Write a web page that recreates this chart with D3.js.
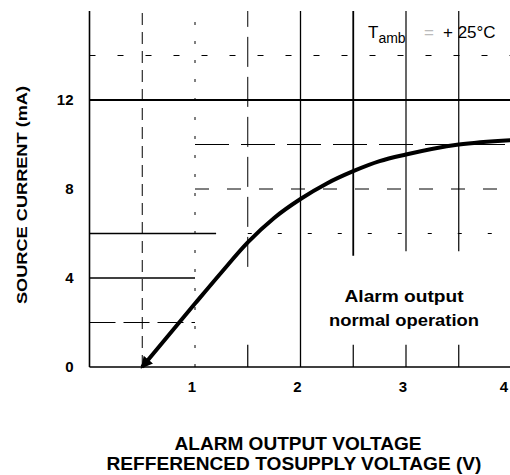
<!DOCTYPE html>
<html>
<head>
<meta charset="utf-8">
<script src="https://cdn.jsdelivr.net/npm/d3@7"></script>
<style>
  body { margin: 0; background: #fff; }
  svg { display: block; }
</style>
</head>
<body>
<div id="chart"></div>
<script>
// source current vs alarm output voltage
const voltage = [0.5, 1.0, 1.25, 1.5, 1.75, 2.0, 2.25, 2.5, 2.75, 3.0, 3.5, 4.0];
const current = [0, 2.85, 4.25, 5.6, 6.7, 7.55, 8.25, 8.8, 9.25, 9.55, 10.0, 10.2];

const xTicks = [1, 2, 3, 4];
const yTicks = [0, 4, 8, 12];
const xGrid = [0.5, 1, 1.5, 2, 2.5, 3, 3.5];
const yGrid = [2, 4, 6, 8, 10, 14];

const xTitle = ["ALARM OUTPUT VOLTAGE", "REFFERENCED TOSUPPLY VOLTAGE (V)"];
const yTitle = "SOURCE CURRENT (mA)";
const noteLines = ["Alarm output", "normal operation"];

const width = 510, height = 475;
const margin = {top: 11, right: -1.5, bottom: 108, left: 89.5};

const svg = d3.select("#chart").append("svg")
    .attr("width", width)
    .attr("height", height);

const x = d3.scaleLinear()
    .domain([0, 4])
    .range([margin.left, width - margin.right]);

const y = d3.scaleLinear()
    .domain([0, 16])
    .range([height - margin.bottom, margin.top]);

const font = "'Liberation Sans', Arial, sans-serif";

// grid: the scan has broken lines, so each line gets its own extent and dash
function vStyle(v) {
  switch (v) {
    case 0.5: return {from: 0, to: 16, dash: "12,7", w: 1};
    case 1:   return {from: 0, to: 16, dash: "3,16", w: 1};
    case 1.5: return {from: 4.5, to: 16, dash: "30,10", w: 1};
    case 2:   return {from: 0, to: 16, dash: null, w: 1.3};
    case 2.5: return {from: 5, to: 16, dash: null, w: 1.8};
    case 3:   return {from: 5.2, to: 16, dash: null, w: 1.2};
    default:  return {from: 5.2, to: 16, dash: null, w: 1.2};
  }
}
function hStyle(v) {
  switch (v) {
    case 14: return {from: 0, to: 4, dash: "6,22", w: 1};
    case 10: return {from: 1, to: 4, dash: "34,12", w: 1.1};
    case 8:  return {from: 1, to: 4, dash: "14,18", w: 1};
    case 6:  return {from: 0, to: 1.2, dash: null, w: 1.4};
    case 4:  return {from: 0, to: 1, dash: null, w: 1.3};
    default: return {from: 0, to: 1, dash: "26,8", w: 1};
  }
}

const grid = svg.append("g").attr("stroke", "#000").attr("fill", "none");

grid.selectAll(".vgrid")
  .data(xGrid)
  .join("line")
    .attr("class", "vgrid")
    .attr("x1", d => x(d)).attr("x2", d => x(d))
    .attr("y1", d => y(vStyle(d).from)).attr("y2", d => y(vStyle(d).to))
    .attr("stroke-width", d => vStyle(d).w)
    .attr("stroke-dasharray", d => vStyle(d).dash);

// short stubs of the broken lines near the bottom
grid.selectAll(".vstub")
  .data(xGrid.filter(d => d >= 1.5 && d !== 2))
  .join("line")
    .attr("class", "vstub")
    .attr("x1", d => x(d)).attr("x2", d => x(d))
    .attr("y1", y(0)).attr("y2", y(1))
    .attr("stroke-width", 1.2);

grid.selectAll(".hgrid")
  .data(yGrid)
  .join("line")
    .attr("class", "hgrid")
    .attr("y1", d => y(d)).attr("y2", d => y(d))
    .attr("x1", d => x(hStyle(d).from)).attr("x2", d => x(hStyle(d).to))
    .attr("stroke-width", d => hStyle(d).w)
    .attr("stroke-dasharray", d => hStyle(d).dash);

// the right part of the 6 mA line is dashed
grid.append("line")
    .attr("x1", x(1.5)).attr("x2", x(4))
    .attr("y1", y(6)).attr("y2", y(6))
    .attr("stroke-width", 1)
    .attr("stroke-dasharray", "4,26");

// heavy 12 mA line, left and bottom borders
grid.append("line")
    .attr("x1", x(0)).attr("x2", x(4))
    .attr("y1", y(12)).attr("y2", y(12))
    .attr("stroke-width", 2);
grid.append("line")
    .attr("x1", x(0)).attr("x2", x(0))
    .attr("y1", y(0)).attr("y2", y(16))
    .attr("stroke-width", 1.6);
grid.append("line")
    .attr("x1", x(0)).attr("x2", x(4))
    .attr("y1", y(0)).attr("y2", y(0))
    .attr("stroke-width", 1.5);

// axis labels
svg.append("g")
  .selectAll("text")
  .data(xTicks)
  .join("text")
    .attr("x", d => Math.min(x(d) - 3, width - 6))
    .attr("y", y(0) + 25)
    .attr("text-anchor", "middle")
    .style("font", `bold 15px ${font}`)
    .text(d => d);

svg.append("g")
  .selectAll("text")
  .data(yTicks)
  .join("text")
    .attr("x", x(0) - 16)
    .attr("y", d => y(d) + 5)
    .attr("text-anchor", "end")
    .style("font", `bold 15px ${font}`)
    .text(d => d);

svg.append("text")
    .attr("transform", `translate(27,${(y(0) + y(16)) / 2 + 6}) rotate(-90)`)
    .attr("text-anchor", "middle")
    .attr("textLength", 218)
    .attr("lengthAdjust", "spacingAndGlyphs")
    .style("font", `bold 15px ${font}`)
    .text(yTitle);

svg.append("text")
    .attr("x", 298).attr("y", 450)
    .attr("text-anchor", "middle")
    .attr("textLength", 247)
    .attr("lengthAdjust", "spacingAndGlyphs")
    .style("font", `bold 18px ${font}`)
    .text(xTitle[0]);

svg.append("text")
    .attr("x", 294).attr("y", 470)
    .attr("text-anchor", "middle")
    .attr("textLength", 375)
    .attr("lengthAdjust", "spacingAndGlyphs")
    .style("font", `bold 18px ${font}`)
    .text(xTitle[1]);

// annotations
const tx = x(2.64);
const tamb = svg.append("text")
    .attr("x", tx).attr("y", y(14.8))
    .style("font", `17px ${font}`);
tamb.append("tspan").text("T");
tamb.append("tspan").attr("dy", 5).style("font-size", "14px").text("amb");
tamb.append("tspan").attr("dy", -5).attr("x", tx + 56).attr("fill", "#bbb").text("=");
tamb.append("tspan").attr("x", tx + 75).text("+ 25°C");

svg.append("g")
  .selectAll("text")
  .data(noteLines)
  .join("text")
    .attr("x", x(3.0) - 2)
    .attr("y", (d, i) => y(2.9) + i * 24)
    .attr("text-anchor", "middle")
    .attr("textLength", (d, i) => i ? 150 : 119)
    .attr("lengthAdjust", "spacingAndGlyphs")
    .style("font", `bold 16px ${font}`)
    .text(d => d);

// curve with arrow at the 0.5 V end
svg.append("defs").append("marker")
    .attr("id", "arrow")
    .attr("viewBox", "0 0 10 10")
    .attr("refX", 8).attr("refY", 5)
    .attr("markerWidth", 3.2).attr("markerHeight", 3)
    .attr("orient", "auto-start-reverse")
    .append("path")
    .attr("d", "M0,0L10,5L0,10z")
    .attr("fill", "#000");

const line = d3.line()
    .x(d => x(d[0]))
    .y(d => y(d[1]))
    .curve(d3.curveMonotoneX);

svg.append("path")
    .datum(voltage.map((v, i) => [v, current[i]]))
    .attr("d", line)
    .attr("fill", "none")
    .attr("stroke", "#000")
    .attr("stroke-width", 4)
    .attr("marker-start", "url(#arrow)");
</script>
</body>
</html>
